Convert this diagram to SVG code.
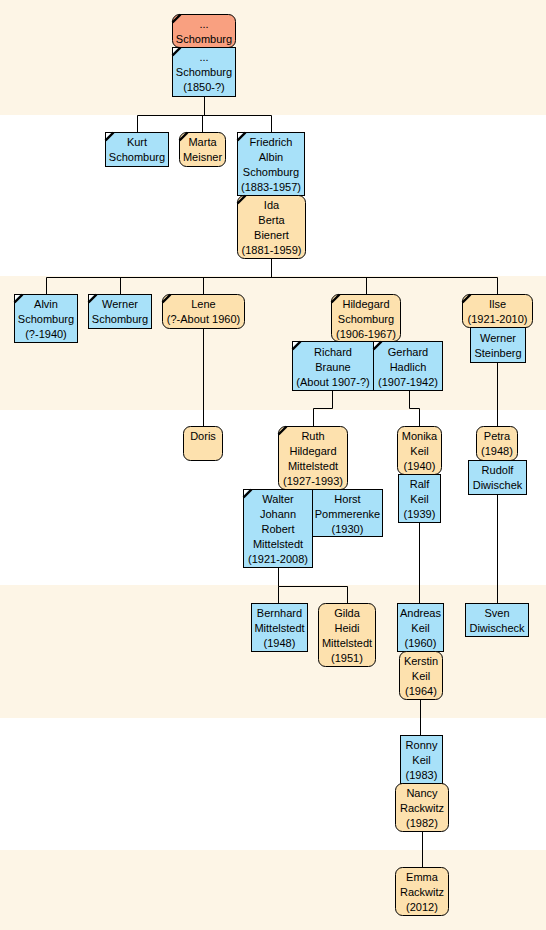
<svg xmlns="http://www.w3.org/2000/svg" width="546" height="930" viewBox="0 0 546 930">
<style>
.band{fill:#FDF5E6}
.m{fill:#A8E1F9;stroke:#000;stroke-width:1}
.f{fill:#FDE1AE;stroke:#000;stroke-width:1}
.u{fill:#F9A080;stroke:#000;stroke-width:1}
.c{fill:none;stroke:#000;stroke-width:1}
.mk{stroke:#000;stroke-width:2.4;fill:none}
.mkw{fill:#fff}
text{font-family:"Liberation Sans",Arial,sans-serif;font-size:11px;fill:#000;text-anchor:middle}
</style>
<rect x="0" y="0" width="546" height="930" fill="#ffffff"/>
<rect class="band" x="0" y="0" width="546" height="115"/>
<rect class="band" x="0" y="276" width="546" height="134"/>
<rect class="band" x="0" y="585" width="546" height="133"/>
<rect class="band" x="0" y="850" width="546" height="80"/>

<g id="connectors">
<path class="c" d="M204.5 97V115.5M137.5 115.5H271.5M137.5 115.5V132M202.5 115.5V132M271.5 115.5V132"/>
<path class="c" d="M271.5 258V277.5M46.5 277.5H497.5M46.5 277.5V294M120.5 277.5V294M203.5 277.5V294M366.5 277.5V294M497.5 277.5V294"/>
<path class="c" d="M203.5 328V426"/>
<path class="c" d="M332.5 390V408.5H313.5V426"/>
<path class="c" d="M409.5 390V408.5H419.5V426"/>
<path class="c" d="M497.5 362V426"/>
<path class="c" d="M278.5 567V586.5H347.5V603M278.5 586.5V603"/>
<path class="c" d="M419.5 523V603"/>
<path class="c" d="M497.5 494V603"/>
<path class="c" d="M420.5 700V735"/>
<path class="c" d="M422.5 832V867"/>
</g>

<g id="n_top1"><rect class="u" x="172.5" y="14.5" width="63" height="33" rx="7"/><path class="mk" d="M172.5 22.5L180.5 14.5"/><text x="204" y="28">...</text><text x="204" y="43">Schomburg</text></g>
<g id="n_top2"><rect class="m" x="172.5" y="47.5" width="63" height="49"/><path class="mkw" d="M173 48H178L173 53Z"/><path class="mk" d="M172.5 55.5L180.5 47.5"/><text x="204" y="61">...</text><text x="204" y="76">Schomburg</text><text x="204" y="91">(1850-?)</text></g>

<g id="n_kurt"><rect class="m" x="105.5" y="132.5" width="63" height="34"/><path class="mkw" d="M106 133H111L106 138Z"/><path class="mk" d="M105.5 140.5L113.5 132.5"/><text x="137" y="146">Kurt</text><text x="137" y="161">Schomburg</text></g>
<g id="n_marta"><rect class="f" x="179.5" y="132.5" width="46" height="34" rx="7"/><path class="mk" d="M179.5 140.5L187.5 132.5"/><text x="202.5" y="146">Marta</text><text x="202.5" y="161">Meisner</text></g>
<g id="n_friedrich"><rect class="m" x="237.5" y="132.5" width="67" height="63"/><path class="mkw" d="M238 133H243L238 138Z"/><path class="mk" d="M237.5 140.5L245.5 132.5"/><text x="271" y="146">Friedrich</text><text x="271" y="161">Albin</text><text x="271" y="176">Schomburg</text><text x="271" y="191">(1883-1957)</text></g>
<g id="n_ida"><rect class="f" x="237.5" y="195.5" width="68" height="63" rx="7"/><path class="mk" d="M237.5 203.5L245.5 195.5"/><text x="271.5" y="209">Ida</text><text x="271.5" y="224">Berta</text><text x="271.5" y="239">Bienert</text><text x="271.5" y="254">(1881-1959)</text></g>

<g id="n_alvin"><rect class="m" x="14.5" y="294.5" width="63" height="48"/><path class="mkw" d="M15 295H20L15 300Z"/><path class="mk" d="M14.5 302.5L22.5 294.5"/><text x="46" y="308">Alvin</text><text x="46" y="323">Schomburg</text><text x="46" y="338">(?-1940)</text></g>
<g id="n_werner_s"><rect class="m" x="88.5" y="294.5" width="63" height="34"/><path class="mkw" d="M89 295H94L89 300Z"/><path class="mk" d="M88.5 302.5L96.5 294.5"/><text x="120" y="308">Werner</text><text x="120" y="323">Schomburg</text></g>
<g id="n_lene"><rect class="f" x="162.5" y="294.5" width="82" height="34" rx="7"/><path class="mk" d="M162.5 302.5L170.5 294.5"/><text x="203.5" y="308">Lene</text><text x="203.5" y="323">(?-About 1960)</text></g>
<g id="n_hildegard"><rect class="f" x="331.5" y="294.5" width="69" height="47" rx="7"/><path class="mk" d="M331.5 302.5L339.5 294.5"/><text x="366" y="308">Hildegard</text><text x="366" y="323">Schomburg</text><text x="366" y="338">(1906-1967)</text></g>
<g id="n_richard"><rect class="m" x="292.5" y="341.5" width="81" height="49"/><path class="mkw" d="M293 342H298L293 347Z"/><path class="mk" d="M292.5 349.5L300.5 341.5"/><text x="333" y="356">Richard</text><text x="333" y="371">Braune</text><text x="333" y="386">(About 1907-?)</text></g>
<g id="n_gerhard"><rect class="m" x="373.5" y="341.5" width="69" height="49"/><path class="mkw" d="M374 342H379L374 347Z"/><path class="mk" d="M373.5 349.5L381.5 341.5"/><text x="408" y="356">Gerhard</text><text x="408" y="371">Hadlich</text><text x="408" y="386">(1907-1942)</text></g>
<g id="n_ilse"><rect class="f" x="462.5" y="294.5" width="70" height="33" rx="7"/><path class="mk" d="M462.5 302.5L470.5 294.5"/><text x="497.5" y="308">Ilse</text><text x="497.5" y="323">(1921-2010)</text></g>
<g id="n_werner_st"><rect class="m" x="470.5" y="327.5" width="55" height="35"/><text x="498" y="342">Werner</text><text x="498" y="357">Steinberg</text></g>

<g id="n_doris"><rect class="f" x="183.5" y="426.5" width="39" height="34" rx="7"/><text x="203" y="440">Doris</text></g>
<g id="n_ruth"><rect class="f" x="278.5" y="426.5" width="69" height="63" rx="7"/><path class="mk" d="M278.5 434.5L286.5 426.5"/><text x="313" y="440">Ruth</text><text x="313" y="455">Hildegard</text><text x="313" y="470">Mittelstedt</text><text x="313" y="485">(1927-1993)</text></g>
<g id="n_walter"><rect class="m" x="243.5" y="489.5" width="69" height="78"/><path class="mkw" d="M244 490H249L244 495Z"/><path class="mk" d="M243.5 497.5L251.5 489.5"/><text x="278" y="503">Walter</text><text x="278" y="518">Johann</text><text x="278" y="533">Robert</text><text x="278" y="548">Mittelstedt</text><text x="278" y="563">(1921-2008)</text></g>
<g id="n_horst"><rect class="m" x="312.5" y="489.5" width="70" height="47"/><text x="347.5" y="503">Horst</text><text x="347.5" y="518">Pommerenke</text><text x="347.5" y="533">(1930)</text></g>
<g id="n_monika"><rect class="f" x="397.5" y="426.5" width="44" height="48" rx="7"/><text x="419.5" y="440">Monika</text><text x="419.5" y="455">Keil</text><text x="419.5" y="470">(1940)</text></g>
<g id="n_ralf"><rect class="m" x="398.5" y="474.5" width="42" height="48"/><text x="419.5" y="488">Ralf</text><text x="419.5" y="503">Keil</text><text x="419.5" y="518">(1939)</text></g>
<g id="n_petra"><rect class="f" x="476.5" y="426.5" width="41" height="34" rx="7"/><text x="497" y="440">Petra</text><text x="497" y="455">(1948)</text></g>
<g id="n_rudolf"><rect class="m" x="468.5" y="460.5" width="58" height="34"/><text x="497.5" y="474">Rudolf</text><text x="497.5" y="489">Diwischek</text></g>

<g id="n_bernhard"><rect class="m" x="251.5" y="603.5" width="56" height="48"/><text x="279.5" y="617">Bernhard</text><text x="279.5" y="632">Mittelstedt</text><text x="279.5" y="647">(1948)</text></g>
<g id="n_gilda"><rect class="f" x="318.5" y="603.5" width="57" height="63" rx="7"/><text x="347" y="617">Gilda</text><text x="347" y="632">Heidi</text><text x="347" y="647">Mittelstedt</text><text x="347" y="662">(1951)</text></g>
<g id="n_andreas"><rect class="m" x="397.5" y="603.5" width="46" height="48"/><text x="420.5" y="617">Andreas</text><text x="420.5" y="632">Keil</text><text x="420.5" y="647">(1960)</text></g>
<g id="n_kerstin"><rect class="f" x="399.5" y="651.5" width="43" height="48" rx="7"/><text x="421" y="665">Kerstin</text><text x="421" y="680">Keil</text><text x="421" y="695">(1964)</text></g>
<g id="n_sven"><rect class="m" x="465.5" y="603.5" width="63" height="33"/><text x="497" y="617">Sven</text><text x="497" y="632">Diwischeck</text></g>

<g id="n_ronny"><rect class="m" x="400.5" y="735.5" width="42" height="48"/><text x="421.5" y="749">Ronny</text><text x="421.5" y="764">Keil</text><text x="421.5" y="779">(1983)</text></g>
<g id="n_nancy"><rect class="f" x="395.5" y="783.5" width="53" height="48" rx="7"/><text x="422" y="797">Nancy</text><text x="422" y="812">Rackwitz</text><text x="422" y="827">(1982)</text></g>
<g id="n_emma"><rect class="f" x="395.5" y="867.5" width="53" height="48" rx="7"/><text x="422" y="881">Emma</text><text x="422" y="896">Rackwitz</text><text x="422" y="911">(2012)</text></g>
</svg>
